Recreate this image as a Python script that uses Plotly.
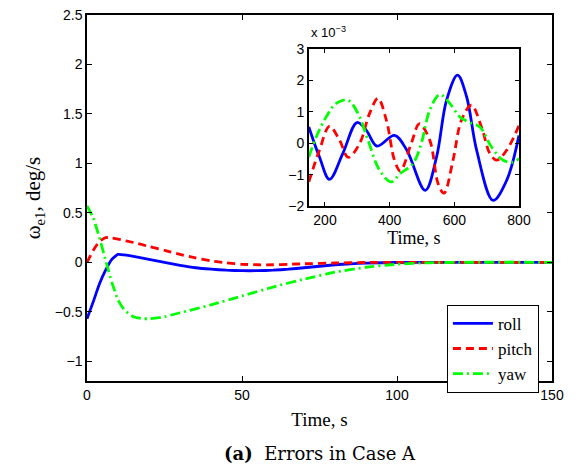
import plotly.graph_objects as go

# ---- main plot data (time in s, rate error in deg/s) ----
t_roll = [0, 2, 4, 6, 8, 10, 12, 15, 20, 25, 30, 35, 40, 45, 50, 55, 60, 65, 70, 75, 80, 85, 90, 100, 110, 150]
roll = [-0.57, -0.40, -0.22, -0.08, 0.03, 0.08, 0.075, 0.06, 0.03, 0.0, -0.03, -0.055, -0.07, -0.08, -0.085,
        -0.085, -0.08, -0.07, -0.055, -0.04, -0.025, -0.015, -0.008, -0.002, 0.0, 0.0]

t_pitch = [0, 2, 4, 6, 8, 10, 15, 20, 25, 30, 35, 40, 45, 50, 55, 60, 65, 70, 80, 90, 100, 150]
pitch = [0.0, 0.12, 0.21, 0.25, 0.245, 0.235, 0.2, 0.16, 0.12, 0.08, 0.045, 0.015, -0.005, -0.02, -0.025,
         -0.025, -0.02, -0.015, -0.007, -0.002, 0.0, 0.0]

t_yaw = [0, 2, 4, 6, 8, 10, 12, 15, 18, 20, 25, 30, 40, 50, 60, 70, 80, 90, 100, 110, 120, 150]
yaw = [0.57, 0.45, 0.25, 0.02, -0.2, -0.38, -0.48, -0.55, -0.57, -0.57, -0.55, -0.51, -0.43, -0.34, -0.25,
       -0.17, -0.1, -0.05, -0.02, -0.005, 0.0, 0.0]

# ---- inset data (time in s, values in units of 1e-3 deg/s) ----
ti_roll = [150, 183, 214, 255, 299, 328, 361, 415, 452, 510, 545, 576, 610, 638, 669, 720, 762, 800]
ri_roll = [0.52, -0.44, -1.15, -0.33, 0.66, 0.41, -0.09, 0.25, -0.2, -1.5, -0.44, 1.37, 2.17, 1.48, -0.22,
           -1.82, -1.18, 0.25]

ti_pitch = [150, 183, 214, 245, 272, 307, 338, 364, 390, 415, 433, 467, 492, 524, 550, 568, 596, 622, 653,
            684, 710, 731, 762, 800]
ri_pitch = [-1.23, -0.22, 0.54, 0.1, -0.45, -0.01, 0.95, 1.43, 0.73, -0.54, -0.88, 0.0, 0.62, 0.1, -1.29,
            -1.59, -0.54, 0.73, 1.21, 0.52, -0.33, -0.54, -0.22, 0.57]

ti_yaw = [150, 173, 204, 235, 271, 302, 333, 369, 405, 432, 472, 498, 524, 555, 586, 617, 648, 679, 715,
          751, 782, 800]
ri_yaw = [-0.44, 0.2, 0.84, 1.27, 1.37, 0.95, 0.1, -0.86, -1.23, -0.97, -0.65, 0.0, 1.05, 1.55, 1.27, 0.84,
          0.66, 0.52, -0.12, -0.54, -0.6, -0.49]

names = ["roll", "pitch", "yaw"]
colors = ["#0000ff", "#ff0000", "#00ff00"]
dashes = ["solid", "8px,5px", "10px,4px,2px,4px"]

fig = go.Figure()
for tt, yy, n, c, d in zip([t_roll, t_pitch, t_yaw], [roll, pitch, yaw], names, colors, dashes):
    fig.add_trace(go.Scatter(x=tt, y=yy, name=n, mode="lines",
                             line=dict(color=c, width=2.8, dash=d, shape="spline", smoothing=0.5),
                             xaxis="x", yaxis="y"))
for tt, yy, n, c, d in zip([ti_roll, ti_pitch, ti_yaw], [ri_roll, ri_pitch, ri_yaw], names, colors, dashes):
    fig.add_trace(go.Scatter(x=tt, y=yy, name=n, mode="lines", showlegend=False,
                             line=dict(color=c, width=2.8, dash=d, shape="spline", smoothing=1.0),
                             xaxis="x2", yaxis="y2"))

tick_font = dict(family="Liberation Sans, Arial, sans-serif", size=14, color="black")
inset_tick_font = dict(family="Liberation Sans, Arial, sans-serif", size=14, color="black")
serif = "Liberation Serif, Times New Roman, serif"

axis_common = dict(showline=True, linecolor="black", linewidth=1.5, mirror="ticks", ticks="inside",
                   ticklen=5, tickcolor="black", showgrid=False, zeroline=False, automargin=False,
                   ticklabeloverflow="allow")

# page body has an 8px margin, so the figure is sized/offset to compensate
fig.update_layout(
    width=562, height=456,
    margin=dict(l=79, r=18, t=7, b=83),
    paper_bgcolor="white", plot_bgcolor="white",
    xaxis=dict(range=[0, 150], tickvals=[0, 50, 100, 150], domain=[0, 1], anchor="y", tickfont=tick_font,
               title=dict(text="Time, s", font=dict(family=serif, size=19, color="black"), standoff=11),
               **axis_common),
    yaxis=dict(range=[-1.2, 2.5], tickvals=[-1, -0.5, 0, 0.5, 1, 1.5, 2, 2.5], domain=[0, 1], anchor="x",
               tickfont=tick_font,
               title=dict(text="ω<sub>e1</sub>, deg/s", font=dict(family=serif, size=21, color="black"),
                          standoff=8),
               **axis_common),
    xaxis2=dict(range=[150, 800], tickvals=[200, 400, 600, 800], domain=[0.477, 0.929], anchor="y2",
                tickfont=inset_tick_font,
                title=dict(text="Time, s", font=dict(family=serif, size=18, color="black"), standoff=1),
                **{**axis_common, "ticklen": 4}),
    yaxis2=dict(range=[-2, 3], tickvals=[-2, -1, 0, 1, 2, 3], domain=[0.478, 0.907], anchor="x2",
                tickfont=inset_tick_font, **{**axis_common, "ticklen": 4}),
    legend=dict(x=0.774, y=0.208, xanchor="left", yanchor="top", bgcolor="white",
                bordercolor="black", borderwidth=1, font=dict(family=serif, size=17, color="black"),
                tracegroupgap=0, itemwidth=40),
    showlegend=True,
)

fig.add_annotation(text="x 10<sup>−3</sup>", xref="paper", yref="paper", x=0.477, y=0.925,
                   xanchor="left", yanchor="bottom", showarrow=False,
                   font=dict(family="Liberation Sans, Arial, sans-serif", size=13, color="black"))
fig.add_annotation(text="<b>(a)</b>  Errors in Case A", xref="paper", yref="paper", x=0.5, y=-0.198,
                   xanchor="center", yanchor="middle", showarrow=False,
                   font=dict(family="DejaVu Serif, serif", size=18, color="black"))

fig.write_html("out.html")
